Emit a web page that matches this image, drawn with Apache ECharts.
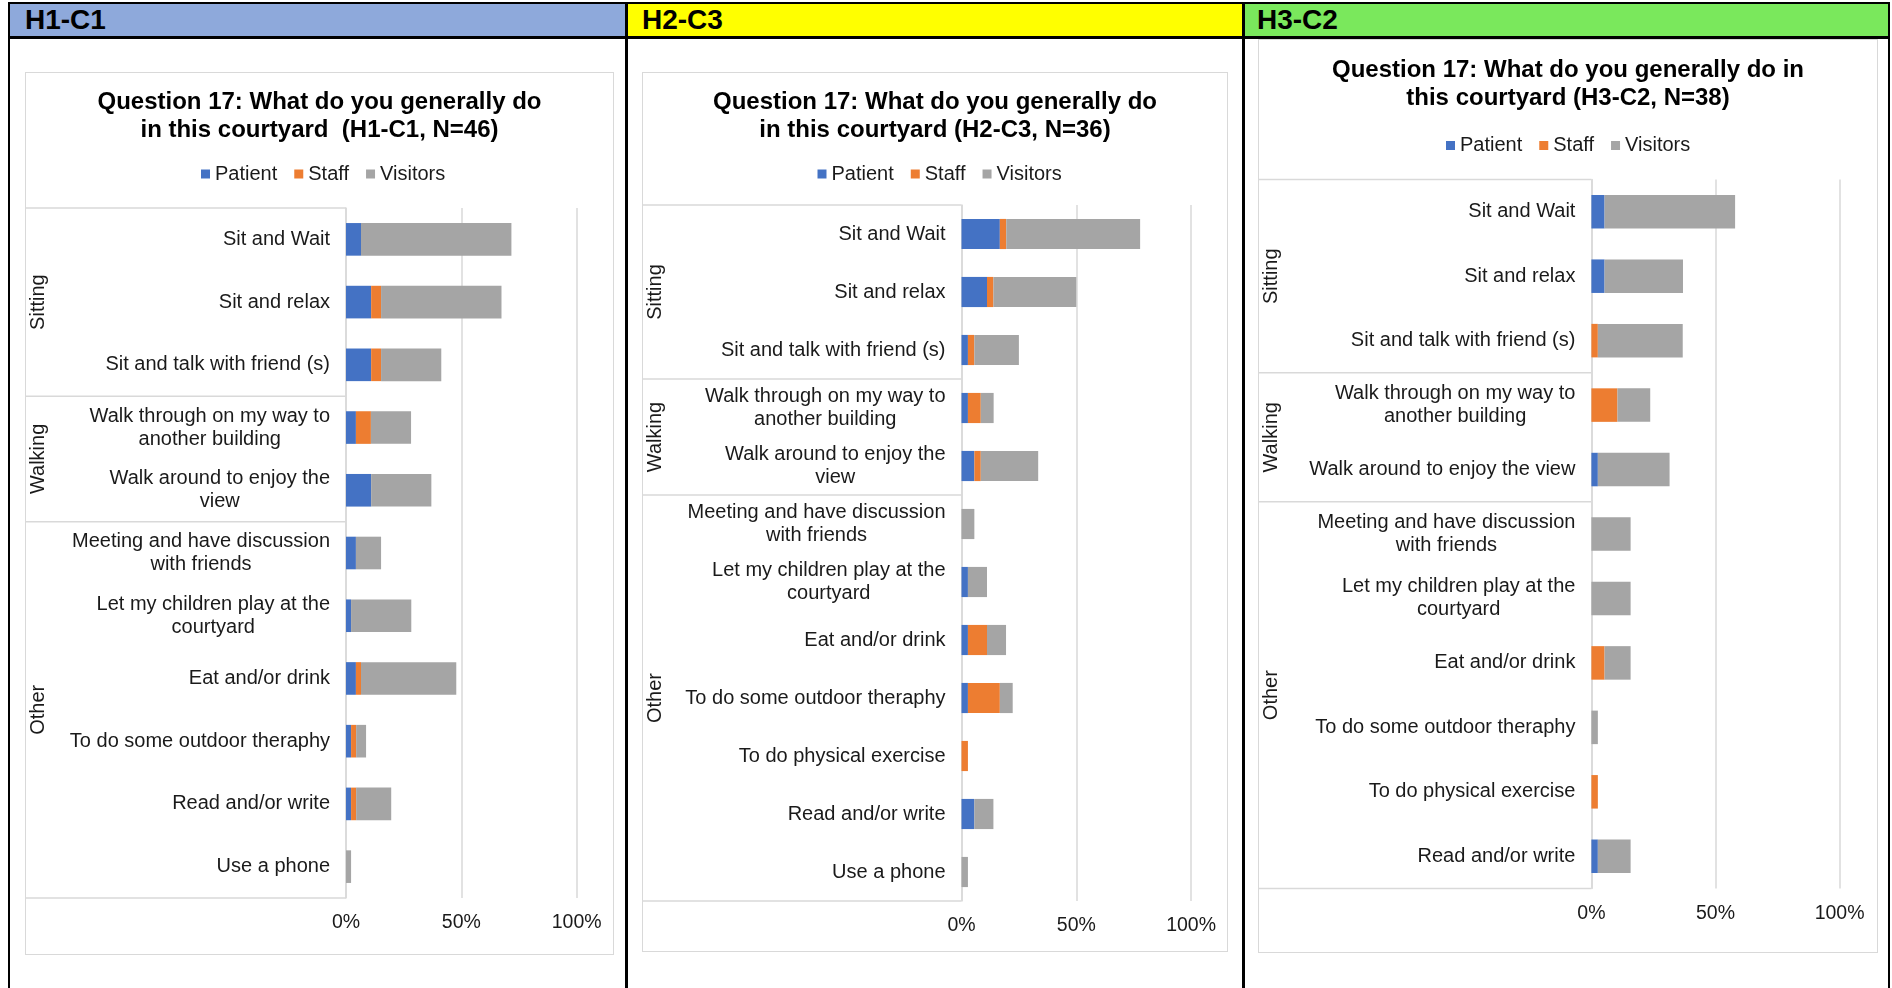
<!DOCTYPE html>
<html>
<head>
<meta charset="utf-8">
<title>Question 17 – courtyard activities</title>
<script src="https://cdn.jsdelivr.net/npm/echarts/dist/echarts.min.js"></script>
<style>
  html, body { margin: 0; padding: 0; background: #fff; width: 1892px; height: 988px; overflow: hidden; }
  body { position: relative; font-family: 'Liberation Sans', Arial, sans-serif; }
  .abs { position: absolute; }
  .black { background: #000; }
  .hdr-text { position: absolute; top: 3px; height: 34px; line-height: 34px; font-size: 28px; font-weight: bold; color: #000; }
  .box { position: absolute; box-sizing: border-box; border: 1.5px solid #d9d9d9; background: #fff; }
  .chart { position: absolute; }
</style>
</head>
<body>

<!-- header bars -->
<div class="abs" style="left:9px;top:3px;width:617px;height:34px;background:#8EA9DB"></div>
<div class="abs" style="left:627px;top:3px;width:615px;height:34px;background:#FFFF00"></div>
<div class="abs" style="left:1244px;top:3px;width:645px;height:34px;background:#7AE85C"></div>
<div class="hdr-text" style="left:25px">H1-C1</div>
<div class="hdr-text" style="left:642px">H2-C3</div>
<div class="hdr-text" style="left:1257px">H3-C2</div>

<!-- frame lines -->
<div class="abs black" style="left:8px;top:1.5px;width:1882px;height:2px"></div>
<div class="abs black" style="left:8px;top:36px;width:1882px;height:2.5px"></div>
<div class="abs black" style="left:8px;top:1.5px;width:2px;height:988px"></div>
<div class="abs black" style="left:625px;top:1.5px;width:3px;height:988px"></div>
<div class="abs black" style="left:1241.5px;top:1.5px;width:3px;height:988px"></div>
<div class="abs black" style="left:1888px;top:1.5px;width:2px;height:988px"></div>

<!-- chart boxes -->
<div class="box" style="left:25px;top:72px;width:589px;height:883px"></div>
<div class="box" style="left:641.5px;top:72px;width:586px;height:880px"></div>
<div class="box" style="left:1258px;top:38.5px;width:620px;height:914.5px"></div>

<div id="c1" class="chart" style="left:25px;top:72px;width:589px;height:883px"></div>
<div id="c2" class="chart" style="left:641.5px;top:72px;width:586px;height:880px"></div>
<div id="c3" class="chart" style="left:1258px;top:38.5px;width:620px;height:914.5px"></div>

<script>
// ---- data -------------------------------------------------------------
const seriesNames = ['Patient', 'Staff', 'Visitors'];
const seriesColors = ['#4472C4', '#ED7D31', '#A5A5A5'];
const xTickStep = 50;          // percent axis: 0%, 50%, 100%
const xMax = 100;

// H1-C1 (N=46)
const h1Title = 'Question 17: What do you generally do\nin this courtyard  (H1-C1, N=46)';
const h1Categories = [
  'Sit and Wait', 'Sit and relax', 'Sit and talk with friend (s)',
  'Walk through on my way to\nanother building', 'Walk around to enjoy the\nview',
  'Meeting and have discussion\nwith friends', 'Let my children play at the\ncourtyard',
  'Eat and/or drink', 'To do some outdoor theraphy', 'Read and/or write', 'Use a phone'
];
const h1Patient  = [6.5, 10.9, 10.9, 4.3, 10.9, 4.3, 2.2, 4.3, 2.2, 2.2, 0];
const h1Staff    = [0, 4.3, 4.3, 6.5, 0, 0, 0, 2.2, 2.2, 2.2, 0];
const h1Visitors = [65.2, 52.2, 26.1, 17.4, 26.1, 10.9, 26.1, 41.3, 4.3, 15.2, 2.2];
const h1Groups = ['Sitting', 'Walking', 'Other'];
const h1GroupSizes = [3, 2, 6];

// H2-C3 (N=36)
const h2Title = 'Question 17: What do you generally do\nin this courtyard (H2-C3, N=36)';
const h2Categories = [
  'Sit and Wait', 'Sit and relax', 'Sit and talk with friend (s)',
  'Walk through on my way to\nanother building', 'Walk around to enjoy the\nview',
  'Meeting and have discussion\nwith friends', 'Let my children play at the\ncourtyard',
  'Eat and/or drink', 'To do some outdoor theraphy', 'To do physical exercise',
  'Read and/or write', 'Use a phone'
];
const h2Patient  = [16.7, 11.1, 2.8, 2.8, 5.6, 0, 2.8, 2.8, 2.8, 0, 5.6, 0];
const h2Staff    = [2.8, 2.8, 2.8, 5.6, 2.8, 0, 0, 8.3, 13.9, 2.8, 0, 0];
const h2Visitors = [58.3, 36.1, 19.4, 5.6, 25.0, 5.6, 8.3, 8.3, 5.6, 0, 8.3, 2.8];
const h2Groups = ['Sitting', 'Walking', 'Other'];
const h2GroupSizes = [3, 2, 7];

// H3-C2 (N=38)
const h3Title = 'Question 17: What do you generally do in\nthis courtyard (H3-C2, N=38)';
const h3Categories = [
  'Sit and Wait', 'Sit and relax', 'Sit and talk with friend (s)',
  'Walk through on my way to\nanother building', 'Walk around to enjoy the view',
  'Meeting and have discussion\nwith friends', 'Let my children play at the\ncourtyard',
  'Eat and/or drink', 'To do some outdoor theraphy', 'To do physical exercise',
  'Read and/or write'
];
const h3Patient  = [5.3, 5.3, 0, 0, 2.6, 0, 0, 0, 0, 0, 2.6];
const h3Staff    = [0, 0, 2.6, 10.5, 0, 0, 0, 5.3, 0, 2.6, 0];
const h3Visitors = [52.6, 31.6, 34.2, 13.2, 28.9, 15.8, 15.8, 10.5, 2.6, 0, 13.2];
const h3Groups = ['Sitting', 'Walking', 'Other'];
const h3GroupSizes = [3, 2, 6];

// ---- styling / layout ---------------------------------------------------
const FONT = "'Liberation Sans', Arial, sans-serif";
const TEXT = '#1a1a1a';
const GRID = '#d9d9d9';

const panels = [
  { el: 'c1', title: h1Title, categories: h1Categories, values: [h1Patient, h1Staff, h1Visitors],
    groups: h1Groups, groupSizes: h1GroupSizes,
    titleTop: 16, legendLeft: 176, legendCenter: 102, groupX: 13,
    grid: { left: 321, top: 136, width: 230.7, height: 690 } },
  { el: 'c2', title: h2Title, categories: h2Categories, values: [h2Patient, h2Staff, h2Visitors],
    groups: h2Groups, groupSizes: h2GroupSizes,
    titleTop: 16, legendLeft: 175.5, legendCenter: 102, groupX: 13.5,
    grid: { left: 319.5, top: 133, width: 229.6, height: 696 } },
  { el: 'c3', title: h3Title, categories: h3Categories, values: [h3Patient, h3Staff, h3Visitors],
    groups: h3Groups, groupSizes: h3GroupSizes,
    titleTop: 17.5, legendLeft: 188, legendCenter: 106.5, groupX: 13,
    grid: { left: 333.4, top: 140.5, width: 248.2, height: 709 } }
];

function buildOption(p) {
  return {
    animation: false,
    textStyle: { fontFamily: FONT },
    title: {
      text: p.title, left: 'center', top: p.titleTop, padding: 0,
      textStyle: { fontFamily: FONT, fontSize: 24, fontWeight: 'bold', color: '#000', lineHeight: 28 }
    },
    legend: {
      data: seriesNames, left: p.legendLeft, top: p.legendCenter - 10, padding: 0,
      icon: 'rect', itemWidth: 9, itemHeight: 9, itemGap: 17, selectedMode: false,
      textStyle: { fontFamily: FONT, fontSize: 20, color: TEXT, lineHeight: 20 }
    },
    grid: Object.assign({ containLabel: false, outerBoundsMode: 'none' }, p.grid),
    xAxis: {
      type: 'value', min: 0, max: xMax, interval: xTickStep,
      axisLine: { show: false }, axisTick: { show: false },
      splitLine: { show: true, lineStyle: { color: GRID, width: 1.5 } },
      axisLabel: { formatter: '{value}%', fontFamily: FONT, fontSize: 19.5, color: TEXT, margin: 15 }
    },
    yAxis: {
      type: 'category', data: p.categories, inverse: true,
      axisLine: { show: true, lineStyle: { color: GRID, width: 1.5 } },
      axisTick: { show: false }, splitLine: { show: false },
      axisLabel: {
        interval: 0, margin: 16,
        // each wrapped line is centred inside the right-aligned label block
        formatter: v => v.split('\n').map(s => '{c|' + s + '}').join('\n'),
        rich: { c: { align: 'center', fontFamily: FONT, fontSize: 20, lineHeight: 23, color: TEXT } }
      }
    },
    series: seriesNames.map((name, k) => ({
      name, type: 'bar', stack: 'total', data: p.values[k],
      barCategoryGap: '48%', itemStyle: { color: seriesColors[k] }
    }))
  };
}

// group captions and separators of the two-level category axis
function groupGraphics(chart, p) {
  const pos = i => chart.convertToPixel({ yAxisIndex: 0 }, i);
  const band = pos(1) - pos(0);
  const axisX = chart.convertToPixel({ xAxisIndex: 0 }, 0);
  const line = y => ({
    type: 'line', silent: true, z: 10,
    shape: { x1: 0, y1: y, x2: axisX, y2: y },
    style: { stroke: GRID, lineWidth: 1.5 }
  });
  const els = [line(pos(0) - band / 2)];
  let start = 0;
  p.groups.forEach((g, gi) => {
    const size = p.groupSizes[gi];
    const y0 = pos(start) - band / 2;
    const y1 = pos(start + size - 1) + band / 2;
    els.push({
      type: 'text', silent: true, z: 10, x: p.groupX, y: (y0 + y1) / 2, rotation: Math.PI / 2,
      style: { text: g, fill: TEXT, font: '20px ' + FONT,
               textAlign: 'center', textVerticalAlign: 'middle', align: 'center', verticalAlign: 'middle' }
    });
    els.push(line(y1));
    start += size;
  });
  return els;
}

panels.forEach(p => {
  const chart = echarts.init(document.getElementById(p.el), null, { renderer: 'canvas' });
  chart.setOption(buildOption(p));
  chart.setOption({ graphic: groupGraphics(chart, p) });
});
</script>
</body>
</html>
